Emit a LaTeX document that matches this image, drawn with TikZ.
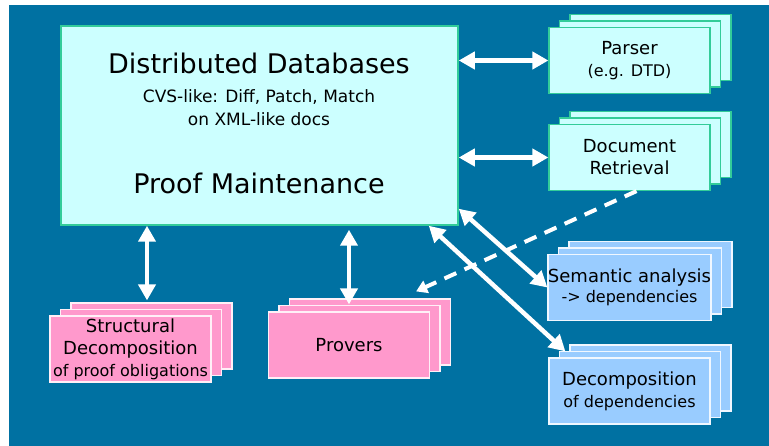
\documentclass[tikz,border=0pt]{standalone}
\usepackage{fontspec}
\setmainfont{DejaVu Sans}
\usetikzlibrary{arrows.meta,shadows}

\definecolor{seablue}{RGB}{0,113,162}
\definecolor{cyanbox}{RGB}{204,255,255}
\definecolor{tealline}{RGB}{51,204,153}
\definecolor{pinkbox}{RGB}{255,153,204}
\definecolor{skybox}{RGB}{153,204,255}

\newcommand{\fbig}{\fontsize{27}{30}\selectfont}
\newcommand{\fmid}{\fontsize{18}{22}\selectfont}
\newcommand{\fsml}{\fontsize{16}{22}\selectfont}
\newcommand{\fsub}{\fontsize{17}{21}\selectfont}

\tikzset{
  stack/.style={rectangle, minimum width=161pt, minimum height=66pt,
                line width=1.2pt, align=center, inner sep=0pt, font=\fmid,
                double copy shadow={shadow xshift=10.5pt, shadow yshift=6.5pt}},
  greenstack/.style={stack, fill=cyanbox, draw=tealline},
  pinkstack/.style={stack, fill=pinkbox, draw=white!85!pinkbox},
  bluestack/.style={stack, fill=skybox, draw=white!85!skybox},
  dbl/.style={white, line width=4.5pt,
              {Triangle[length=16pt,width=17pt]}-{Triangle[length=16pt,width=17pt]}},
  dashy/.style={white, line width=4pt, dash pattern=on 13pt off 9pt,
                -{Triangle[length=11pt,width=13pt]}}
}

\begin{document}
\begin{tikzpicture}[x=1pt,y=-1pt]
\useasboundingbox (0,0) rectangle (769,446);
\fill [seablue] (9,5) rectangle (769,446);

% Kern
\node (main) [rectangle, fill=cyanbox, draw=tealline, line width=1.5pt,
              minimum width=397pt, minimum height=199pt] at (259.5,125.5) {};
\node (dd)  at (259,63)  {\fbig Distributed Databases};
\node (cvs) at (259,97)  {\fsub CVS-like: Diff, Patch, Match};
\node (xml) at (259,119) {\fsub on XML-like docs};
\node (pm)  at (259,183) {\fbig Proof Maintenance};

% Werkzeuge rechts
\node (parser) [greenstack] at (629.5,60.5)  {Parser\\ \fsml (e.g. DTD)};
\node (docret) [greenstack] at (629.5,157.5) {Document\\ Retrieval};
\node (sem)    [bluestack, font=\fontsize{18}{20}\selectfont]
               at (629.5,287.5) {Semantic analysis\\ \fsml -> dependencies};
\node (decomp) [bluestack]  at (629.5,391)   {Decomposition\\ \fsml of dependencies};

% Unten
\node (struct)  [pinkstack] at (130.5,349) {Structural\\ Decomposition\\ \fsml of proof obligations};
\node (provers) [pinkstack] at (349,345)   {Provers};

% Pfeile
\draw [dbl] (main.east |- parser.west) -- (parser.west);
\draw [dbl] (main.east |- docret.west) -- (docret.west);
\draw [dbl] ([yshift=17pt]main.south east) -- (sem.west);
\draw [dbl] ([xshift=-30pt]main.south east) -- ([xshift=17pt,yshift=6pt]decomp.north west);
\draw [dbl] ([xshift=-112.5pt]main.south) -- ([xshift=16.5pt,yshift=15pt]struct.north);
\draw [dbl] ([xshift=89.5pt,yshift=-4pt]main.south) -- ([yshift=7pt]provers.north);
\draw [dashy] ([xshift=7pt]docret.south) -- ([xshift=-14pt,yshift=20pt]provers.north east);

\end{tikzpicture}
\end{document}
